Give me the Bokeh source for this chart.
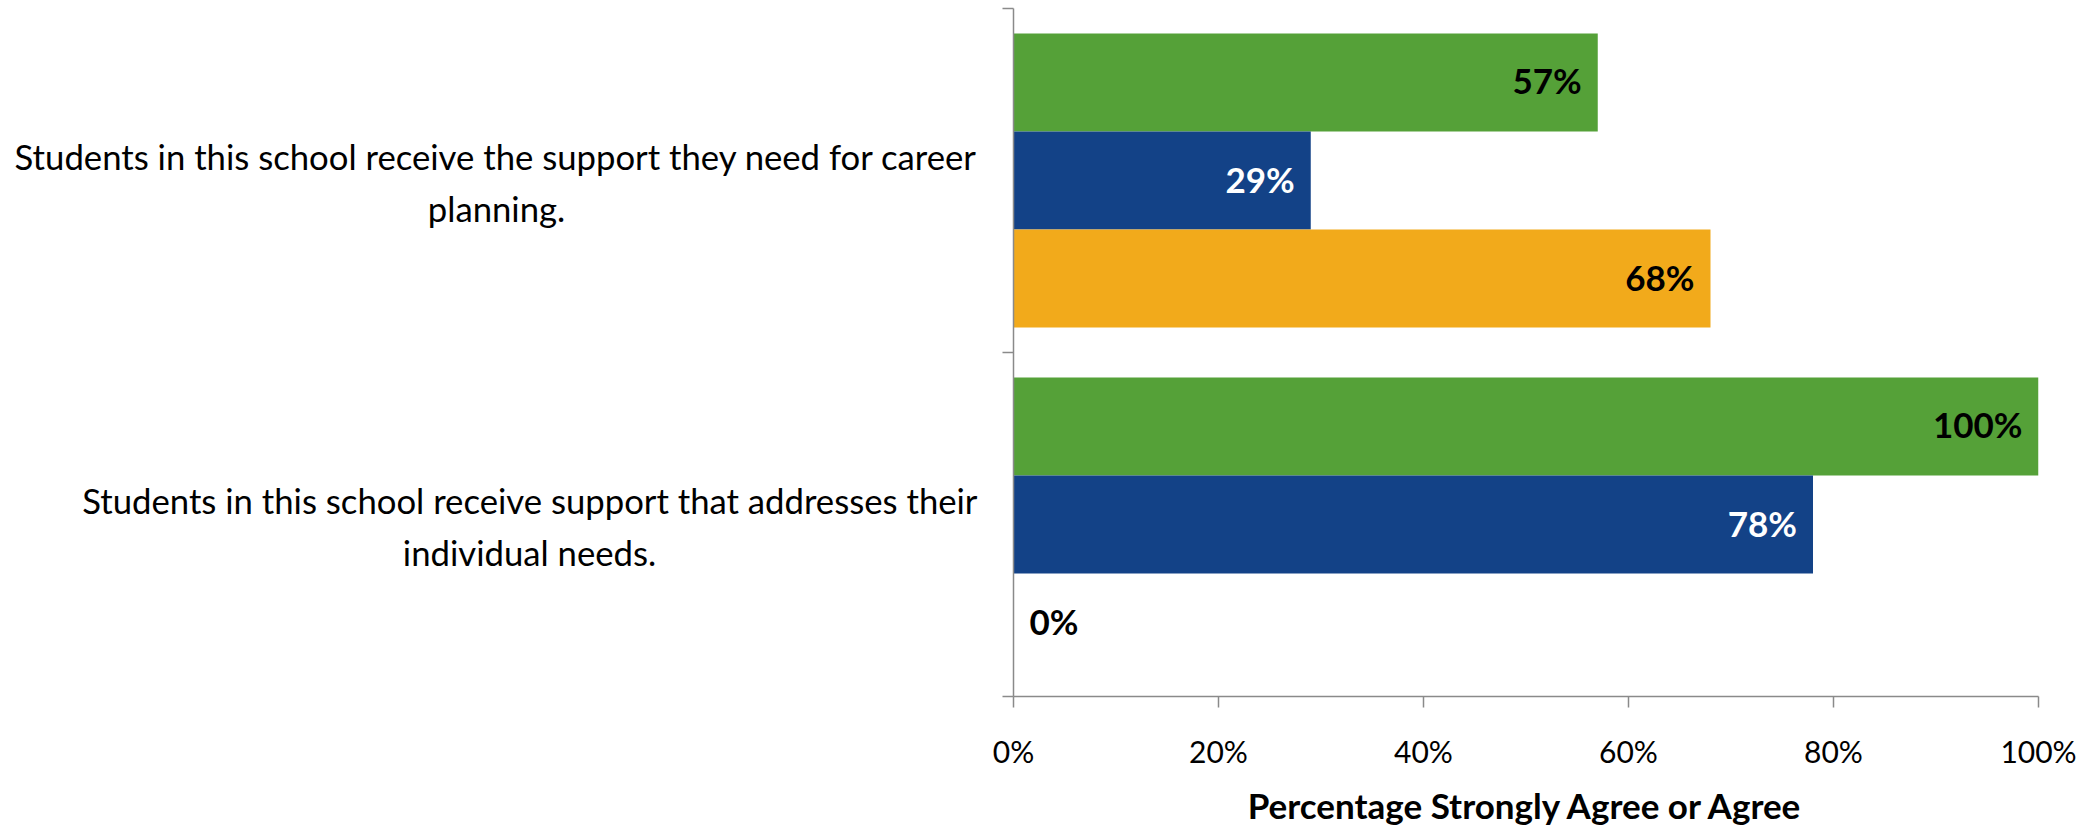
from bokeh.plotting import figure
from bokeh.layouts import row
from bokeh.models import ColumnDataSource, Range1d, FixedTicker, PrintfTickFormatter
from bokeh.embed import file_html
from bokeh.resources import INLINE
from bokeh.core.properties import value, field

# ---- data ----
categories = [
    "Students in this school receive the support they need for career planning.",
    "Students in this school receive support that addresses their individual needs.",
]
category_lines = [
    ["Students in this school receive the support they need for career", "planning."],
    ["Students in this school receive support that addresses their", "individual needs."],
]
green_values = [57, 100]
blue_values = [29, 78]
orange_values = [68, 0]
x_ticks = [0, 20, 40, 60, 80, 100]
x_title = "Percentage Strongly Agree or Agree"

# ---- styles ----
GREEN = "#55A138"
BLUE = "#134287"
ORANGE = "#F2AA1B"
AXIS_GRAY = "#8A8A8A"
FONT = "Lato"
BAR_H = 0.285
H = 828
TOP = 8
BOTTOM = 122
LEFT_W = 990
MAIN_BL = 23
FRAME_W = 1025
MAIN_BR = 51

n = len(categories)
yr = Range1d(0, n)

# ---- main chart ----
p = figure(width=MAIN_BL + FRAME_W + MAIN_BR, height=H,
           x_range=Range1d(0, 100), y_range=yr,
           output_backend="svg", toolbar_location=None,
           min_border_left=MAIN_BL, min_border_right=MAIN_BR,
           min_border_top=TOP, min_border_bottom=BOTTOM)
p.outline_line_color = None
p.xgrid.visible = False
p.ygrid.visible = False

series = [
    (green_values, GREEN, "black", BAR_H),
    (blue_values, BLUE, "white", 0.0),
    (orange_values, ORANGE, "black", -BAR_H),
]
for vals, color, tcolor, off in series:
    ys = [n - i - 0.5 + off for i in range(n)]
    src = ColumnDataSource(dict(
        y=ys, v=vals,
        lab=[f"{v}%" for v in vals],
        align=["right" if v > 0 else "left" for v in vals],
        xoff=[-16 if v > 0 else 16 for v in vals],
    ))
    p.hbar(y="y", left=0, right="v", height=BAR_H, source=src,
           fill_color=color, line_color=None)
    p.text(x="v", y="y", text="lab", source=src,
           text_align=field("align"), x_offset="xoff", y_offset=-2,
           text_baseline="middle", text_color=tcolor,
           text_font=value(FONT), text_font_style="bold",
           text_font_size="35px")

xa = p.xaxis[0]
xa.ticker = FixedTicker(ticks=x_ticks)
xa.formatter = PrintfTickFormatter(format="%d%%")
xa.axis_line_color = AXIS_GRAY
xa.axis_line_width = 1.5
xa.major_tick_line_color = AXIS_GRAY
xa.major_tick_line_width = 1.5
xa.major_tick_out = 11
xa.major_tick_in = 0
xa.minor_tick_line_color = None
xa.major_label_text_font = FONT
xa.major_label_text_font_size = "30px"
xa.major_label_text_color = "black"
xa.major_label_standoff = 25
xa.axis_label = x_title
xa.axis_label_text_font = FONT
xa.axis_label_text_font_style = "bold"
xa.axis_label_text_font_size = "35px"
xa.axis_label_text_color = "black"
xa.axis_label_standoff = 12

ya = p.yaxis[0]
ya.ticker = FixedTicker(ticks=list(range(n + 1)))
ya.major_label_overrides = {k: "" for k in range(n + 1)}
ya.major_label_standoff = 0
ya.axis_line_color = AXIS_GRAY
ya.axis_line_width = 1.5
ya.major_tick_line_color = AXIS_GRAY
ya.major_tick_line_width = 1.5
ya.major_tick_out = 11
ya.major_tick_in = 0
ya.minor_tick_line_color = None

# ---- category labels panel ----
lp = figure(width=LEFT_W, height=H, x_range=Range1d(0, LEFT_W), y_range=yr,
            output_backend="svg", toolbar_location=None,
            x_axis_type=None, y_axis_type=None,
            min_border_left=0, min_border_right=0,
            min_border_top=TOP, min_border_bottom=BOTTOM)
lp.outline_line_color = None
lp.xgrid.visible = False
lp.ygrid.visible = False

right_edge = 977
line2_center = [496, 529]
ly = [n - i - 0.5 for i in range(n)]
src1 = ColumnDataSource(dict(x=[right_edge] * n, y=ly,
                             t=[c[0] for c in category_lines]))
src2 = ColumnDataSource(dict(x=line2_center, y=ly,
                             t=[c[1] for c in category_lines]))
lp.text(x="x", y="y", text="t", source=src1, text_align="right",
        text_baseline="alphabetic", y_offset=-24,
        text_font=value(FONT), text_font_size="34.7px", text_color="black")
lp.text(x="x", y="y", text="t", source=src2, text_align="center",
        text_baseline="alphabetic", y_offset=28,
        text_font=value(FONT), text_font_size="34.7px", text_color="black")

layout = row(lp, p)
open("out.html", "w").write(file_html(layout, INLINE))
